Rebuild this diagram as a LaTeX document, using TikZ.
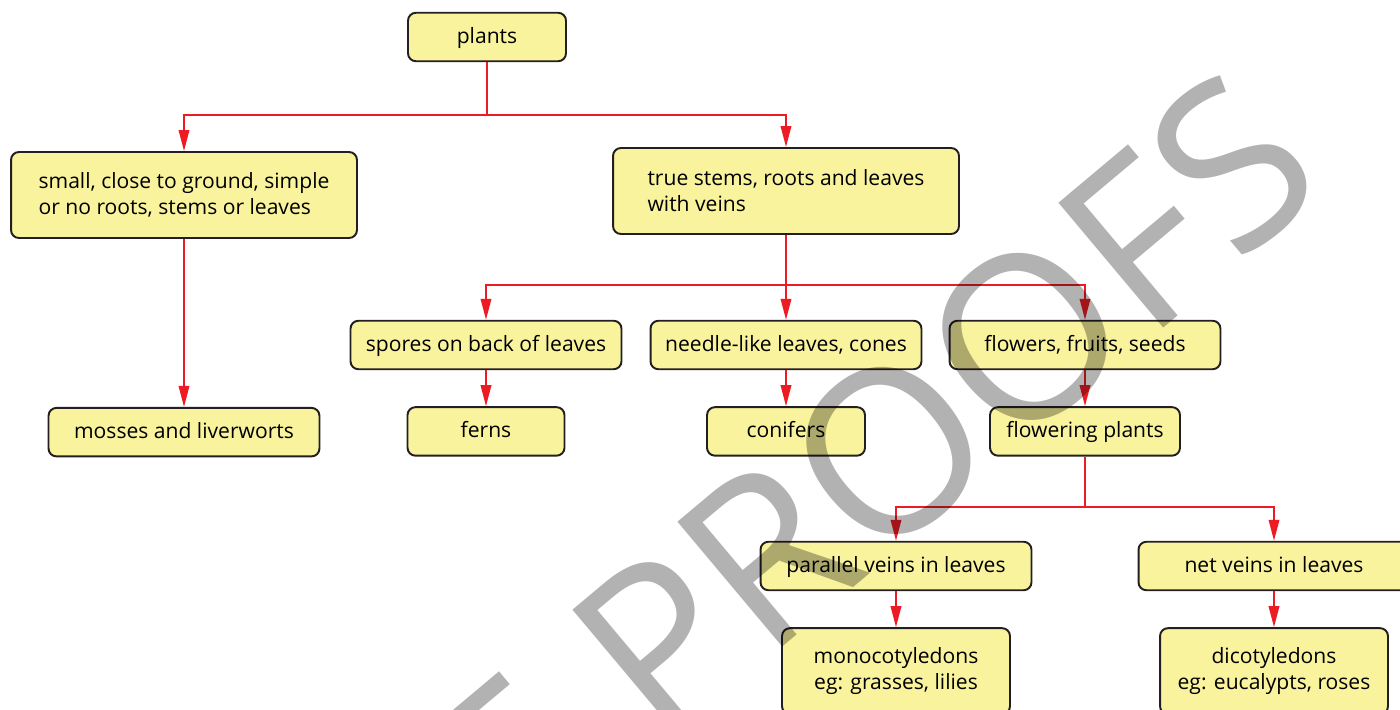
\documentclass[tikz,border=0pt]{standalone}
\usepackage{fontspec}
\setmainfont{Open Sans}
\usetikzlibrary{positioning,arrows.meta}
\definecolor{boxfill}{RGB}{249,243,157}
\definecolor{boxline}{RGB}{35,31,32}
\definecolor{linkred}{RGB}{237,28,36}

\begin{document}
\begin{tikzpicture}[
	x=0.02cm, y=-0.02cm,
	node distance=0.72cm,
	box/.style={rectangle, draw=boxline, line width=1.1pt, fill=boxfill,
		rounded corners=4.5pt, minimum width=#1, minimum height=0.97cm,
		inner sep=2pt, align=center, font=\fontsize{12}{14.7}\selectfont},
	box/.default=5.42cm,
	oneline/.style={text height=0.92em, text depth=0.22em},
	tall/.style={minimum height=1.72cm},
	line/.style={draw=linkred, line width=1.1pt},
	arrow/.style={line, -{Triangle[length=0.42cm,width=0.21cm]}},
	watermark/.style={text=black, text opacity=0.3, inner sep=0pt,
		font=\fontsize{130}{130}\selectfont},
	]
	\useasboundingbox (0,0) rectangle (1400,710);

	\node[box=3.16cm, oneline] (plants) at (487,37) {plants};
	\node[box=6.92cm, tall, align=left] (small) at (184,195) {small, close to ground, simple\\or no roots, stems or leaves};
	\node[box=6.92cm, tall, align=left] (stems) at (786,191) {true stems, roots and leaves\\with veins};
	\node[box, oneline] (spores) at (486,345) {spores on back of leaves};
	\node[box, oneline] (needle) at (786,345) {needle-like leaves, cones};
	\node[box, oneline] (flowers) at (1085,345) {flowers, fruits, seeds};
	\node[box, oneline, below=3.36cm of small] (mosses) {mosses and liverworts};
	\node[box=3.14cm, oneline, below=of spores] (ferns) {ferns};
	\node[box=3.16cm, oneline, below=of needle] (conifers) {conifers};
	\node[box=3.8cm, oneline, below=of flowers] (flowering) {flowering plants};
	\node[box, oneline] (parallel) at (896,566) {parallel veins in leaves};
	\node[box, oneline] (net) at (1274,566) {net veins in leaves};
	\node[box=4.56cm, tall, below=of parallel] (monocot) {monocotyledons\\eg: grasses, lilies};
	\node[box=4.56cm, tall, below=of net] (dicot) {dicotyledons\\eg: eucalypts, roses};

	\coordinate (fork1) at (487,115);
	\coordinate (fork2) at (786,285);
	\coordinate (fork3) at (1085,507);

	% red connectors
	\path[line] (plants) -- (fork1);
	\path[arrow] (fork1) -| (small);
	\path[arrow] (fork1) -| (stems);
	\path[arrow] (small) -- (mosses);
	\path[line] (stems) -- (fork2);
	\path[arrow] (fork2) -| (spores);
	\path[arrow] (fork2) -- (needle);
	\path[arrow] (fork2) -| (flowers);
	\path[arrow] (spores) -- (ferns);
	\path[arrow] (needle) -- (conifers);
	\path[arrow] (flowers) -- (flowering);
	\path[line] (flowering) -- (fork3);
	\path[arrow] (fork3) -| (parallel);
	\path[arrow] (fork3) -| (net);
	\path[arrow] (parallel) -- (monocot);
	\path[arrow] (net) -- (dicot);

	\node[watermark, anchor=base west, rotate=40] (proofs) at (660,750) {\llap{PAGE }PROOFS};
\end{tikzpicture}
\end{document}
